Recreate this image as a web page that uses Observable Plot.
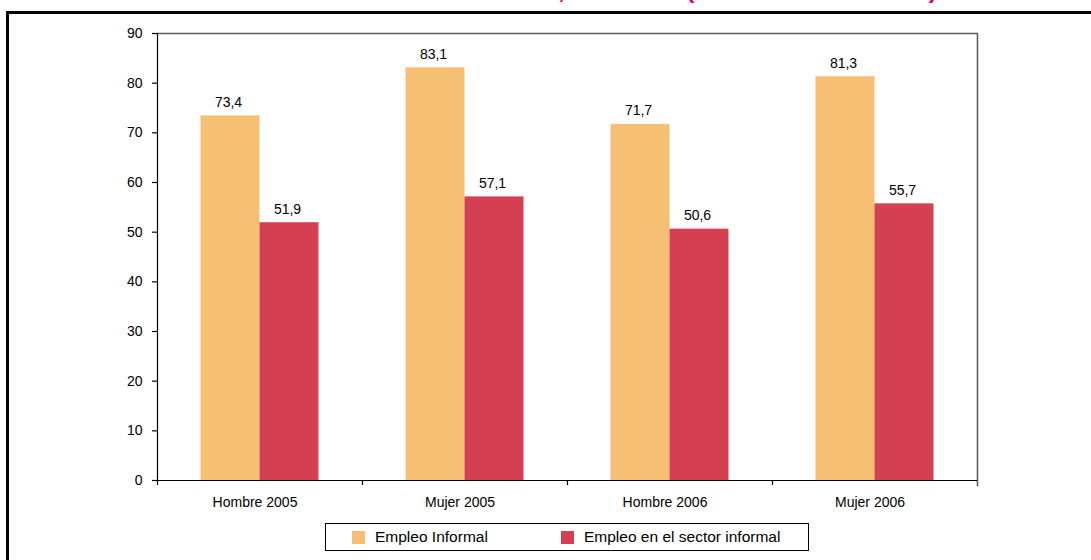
<!DOCTYPE html>
<html><head><meta charset="utf-8">
<script src="https://cdn.jsdelivr.net/npm/d3@7"></script>
<script src="https://cdn.jsdelivr.net/npm/@observablehq/plot@0.6"></script>
<style>
html,body{margin:0;padding:0;background:#fff;width:1091px;height:560px;overflow:hidden;font-family:"Liberation Sans",Arial,sans-serif;}
#page{position:relative;width:1091px;height:560px;overflow:hidden;}
#outer{position:absolute;left:6px;top:11px;width:2000px;height:2000px;border-left:3px solid #000;border-top:3px solid #000;}
#title{position:absolute;left:0;top:0;overflow:hidden;}
#chart{position:absolute;left:0;top:0;}
#legend{position:absolute;left:325px;top:523px;width:484px;height:28px;box-sizing:border-box;border:1.5px solid #000;background:#fff;}
.item{position:absolute;top:0;height:100%;display:flex;align-items:center;font-size:15.5px;color:#000;white-space:nowrap;}
.sw{width:13px;height:13px;margin-right:10.5px;flex:none;}
</style></head>
<body><div id="page"><div id="outer"></div><svg id="title" width="1091" height="10"></svg><div id="chart"></div><div id="legend"></div></div>
<script>
const categories = ["Hombre 2005", "Mujer 2005", "Hombre 2006", "Mujer 2006"];
const series = ["Empleo Informal", "Empleo en el sector informal"];
const informal = [73.4, 83.1, 71.7, 81.3];
const sector = [51.9, 57.1, 50.6, 55.7];
const yTicks = [0, 10, 20, 30, 40, 50, 60, 70, 80, 90];
const colors = ["#F7BF74", "#D43F52"];
const titleMain = "GUATEMALA: EMPLEO INFORMAL POR SEXO, 2005-2006";
const titleUnit = "(PORCENTAJES)";

const plotW = 1091, plotH = 520;
const plotLeft = 157, plotRight = 977, plotTop = 33, plotBottom = 480;
const step = (plotRight - plotLeft) / categories.length;
const barW = 59, gap = (step - 2 * barW) / 2;
const rows = categories.map((c, i) => ({cat: c, a: informal[i], b: sector[i]}));
const fmt = v => v.toFixed(1).replace(".", ",");

const chart = Plot.plot({
  width: plotW, height: plotH,
  marginLeft: plotLeft, marginRight: plotW - plotRight, marginTop: plotTop, marginBottom: plotH - plotBottom,
  style: {fontFamily: "Liberation Sans, Arial, sans-serif", color: "#000", background: "transparent", overflow: "visible"},
  x: {type: "band", domain: categories, padding: 0, axis: null},
  y: {domain: [0, 90], axis: null},
  marks: [
    Plot.barY(rows, {x: "cat", y: "a", fill: colors[0], insetLeft: gap, insetRight: step - gap - barW}),
    Plot.barY(rows, {x: "cat", y: "b", fill: colors[1], insetLeft: gap + barW, insetRight: gap}),
    Plot.text(rows, {x: "cat", y: "a", text: d => fmt(d.a), dx: gap + barW / 2 - step / 2 - 2, dy: -9, lineAnchor: "bottom", fontSize: 14, fill: "#000"}),
    Plot.text(rows, {x: "cat", y: "b", text: d => fmt(d.b), dx: step / 2 - gap - barW / 2 - 2, dy: -9, lineAnchor: "bottom", fontSize: 14, fill: "#000"}),
    Plot.ruleY([90], {stroke: "#5e5e5e", strokeWidth: 1.3}),
    Plot.frame({anchor: "right", stroke: "#5e5e5e", strokeWidth: 1.6, insetBottom: -5}),
    Plot.ruleY([0], {stroke: "#000", strokeWidth: 1.2}),
    Plot.frame({anchor: "left", stroke: "#000", strokeWidth: 1.2}),
    Plot.ruleX(categories, {x: d => d, y1: 0, y2: 0, insetBottom: -5, dx: -step / 2, stroke: "#000", strokeWidth: 1.2}),
    Plot.axisY({ticks: yTicks, tickSize: 5, tickPadding: 10, fontSize: 14, tickFormat: d => String(d), label: null, stroke: "#000", strokeWidth: 1.2}),
    Plot.axisX({tickSize: 0, tickPadding: 17, fontSize: 14, dx: -5, label: null})
  ]
});
document.getElementById("chart").appendChild(chart);

// legend
const legendBox = document.getElementById("legend");
const legendLefts = [25.5, 234.5];
series.forEach((s, i) => {
  const item = document.createElement("div");
  item.className = "item";
  item.style.left = legendLefts[i] + "px";
  const sw = document.createElement("span");
  sw.className = "sw";
  sw.style.background = colors[i];
  const tx = document.createElement("span");
  tx.textContent = s;
  item.appendChild(sw); item.appendChild(tx);
  legendBox.appendChild(item);
});

// title: its upper part lies above the picture, only the lower edge shows
(function () {
  const ns = "http://www.w3.org/2000/svg";
  const svgT = document.getElementById("title");
  function mk(str) {
    const t = document.createElementNS(ns, "text");
    t.textContent = str;
    t.setAttribute("y", "-1.8");
    t.setAttribute("font-family", "Liberation Sans, Arial, sans-serif");
    t.setAttribute("font-weight", "bold");
    t.setAttribute("font-size", "25");
    t.setAttribute("fill", "#E5007D");
    svgT.appendChild(t);
    return t;
  }
  const a = mk(titleMain);
  const b = mk(titleUnit);
  try {
    const ci = titleMain.indexOf(",");
    const x0 = a.getStartPositionOfChar(ci).x;
    a.setAttribute("x", (558 - x0).toFixed(1));
  } catch (e) { a.setAttribute("x", "120"); }
  b.setAttribute("x", "686");
  b.setAttribute("textLength", "251");
  b.setAttribute("lengthAdjust", "spacing");
})();
</script>
</body></html>
